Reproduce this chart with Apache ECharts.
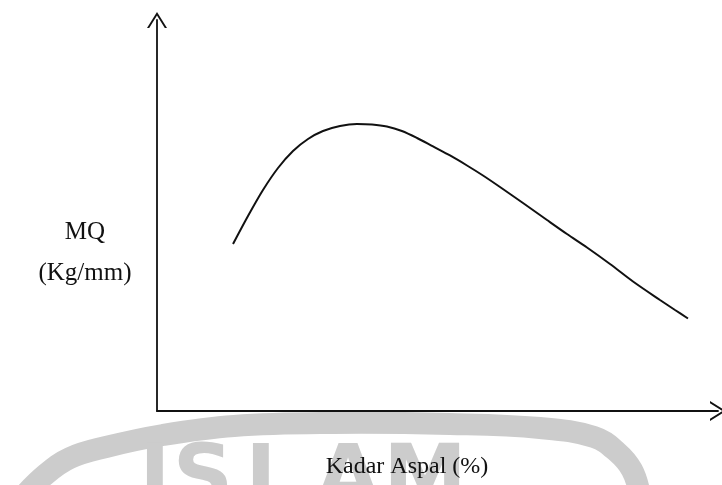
<!DOCTYPE html>
<html>
<head>
<meta charset="utf-8">
<script src="https://cdn.jsdelivr.net/npm/echarts@6/dist/echarts.min.js"></script>
<style>html,body{margin:0;padding:0;background:#fff;}#c{width:722px;height:485px;}</style>
</head>
<body>
<div id="c"></div>
<script>
// Kadar Aspal (%) — relative position along x axis (no ticks shown)
const kadarAspal = [13.55, 16.22, 18.89, 21.57, 24.24, 26.92, 29.59, 32.62, 35.65, 38.32, 40.98, 43.65, 46.35, 49.2, 52.23, 55.26, 58.11, 61.14, 65.24, 69.52, 73.08, 76.65, 80.75, 84.85, 89.66, 92.34, 94.65];
// MQ (Kg/mm) — relative value (no ticks shown)
const mqValues = [42.71, 49.87, 56.52, 62.15, 66.5, 69.57, 71.61, 72.89, 73.4, 73.27, 72.76, 71.61, 69.82, 67.65, 65.35, 62.79, 60.23, 57.29, 53.2, 48.85, 45.27, 41.82, 37.6, 33.12, 28.39, 25.83, 23.66];
const xAxisTitle = 'Kadar Aspal (%)';
const yAxisTitle = 'MQ\n(Kg/mm)';

const chart = echarts.init(document.getElementById('c'), null, {renderer: 'canvas'});
const arrow = 'path://M0,0 L10,16 L7.8,16 L0,3.6 L-7.8,16 L-10,16 Z';
const serif = '"Liberation Serif", "Times New Roman", serif';
const wm = '#cccccc';

function wmLetter(ch, x) {
  return {type: 'text', z: -10, silent: true, x: x, y: 440,
    style: {text: ch, fill: wm, font: 'bold 84px "DejaVu Sans"', textAlign: 'center', textVerticalAlign: 'top'}};
}

chart.setOption({
  animation: false,
  backgroundColor: '#fff',
  grid: {left: 157, right: 4, top: 20, bottom: 74},
  xAxis: {
    type: 'value', min: 0, max: 100,
    axisLine: {show: true, lineStyle: {color: '#111', width: 1.8}, symbol: ['none', arrow], symbolSize: [20, 16]},
    axisTick: {show: false}, axisLabel: {show: false}, splitLine: {show: false},
    name: xAxisTitle, nameLocation: 'middle', nameGap: 44,
    nameTextStyle: {fontFamily: serif, fontSize: 24, color: '#111', padding: [0, 61, 0, 0]}
  },
  yAxis: {
    type: 'value', min: 0, max: 100,
    axisLine: {show: true, lineStyle: {color: '#111', width: 1.8}, symbol: ['none', arrow], symbolSize: [20, 16]},
    axisTick: {show: false}, axisLabel: {show: false}, splitLine: {show: false}
  },
  graphic: [
    {type: 'polyline', z: -10, silent: true,
      shape: {smooth: 0.4, points: [[20,500],[45,475],[70,458],[106,447],[163,435],[234,426],[333,423],[450,424],[540,428],[594,437],[617,452],[632,470],[640,495]]},
      style: {stroke: wm, lineWidth: 22, fill: null}},
    wmLetter('I', 155), wmLetter('S', 203), wmLetter('L', 272), wmLetter('A', 348), wmLetter('M', 425),
    {type: 'text', x: 85, y: 253, z: 10,
      style: {text: yAxisTitle, fill: '#111', font: '25px ' + serif, textAlign: 'center', textVerticalAlign: 'middle', lineHeight: 41}}
  ],
  series: [{
    type: 'line', smooth: 0.3, showSymbol: false, symbol: 'none',
    data: kadarAspal.map((x, i) => [x, mqValues[i]]),
    lineStyle: {color: '#111', width: 2}
  }]
});
</script>
</body>
</html>
